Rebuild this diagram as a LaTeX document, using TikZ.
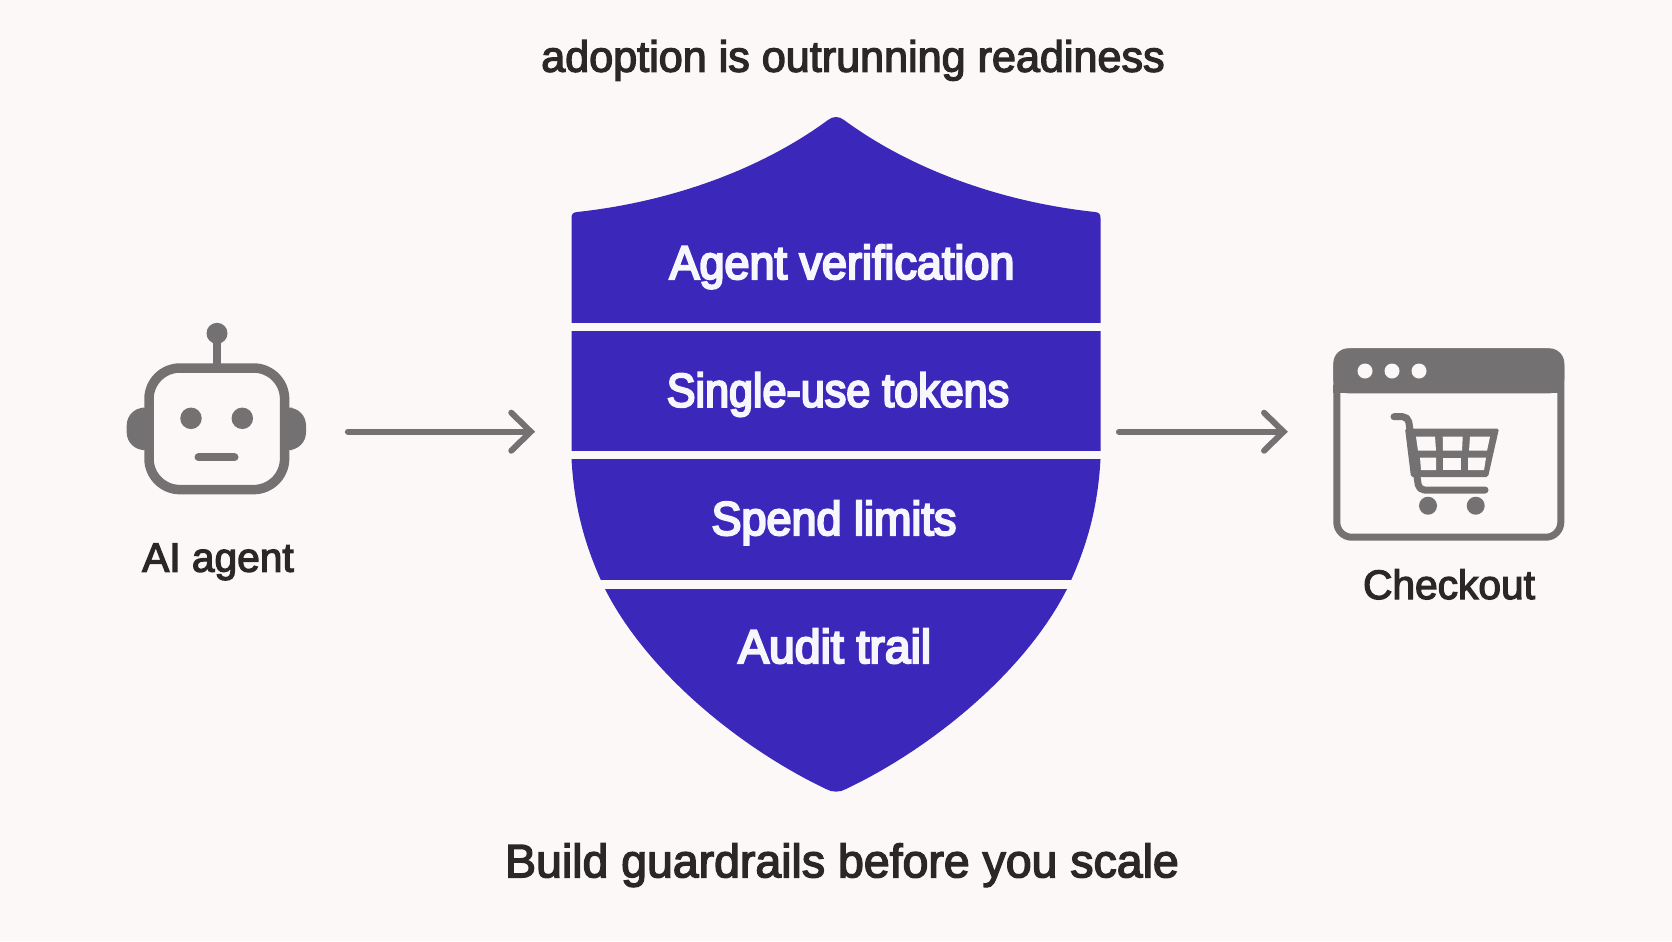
\documentclass[tikz,border=0pt]{standalone}
\usepackage{fontspec}
\usepackage{xcolor}
\usetikzlibrary{arrows.meta}
\newfontfamily\bandfont[FakeStretch=0.948,FakeBold=4.5]{Liberation Sans}
\newfontfamily\captionfont[FakeStretch=0.99,FakeBold=3]{Liberation Sans}
\definecolor{pagebg}{HTML}{FBF8F7}
\definecolor{shieldblue}{HTML}{3B27BA}
\definecolor{icongrey}{HTML}{747172}
\definecolor{inkx}{HTML}{2A2727}
\definecolor{bandtext}{HTML}{F6F6FC}
\tikzset{
  ar/.style={-{Straight Barb[length=3.9mm,width=7.6mm,line cap=round]},line width=1.2mm,icongrey,line cap=round},
  anchorbox/.style={inner sep=0pt,outer sep=0pt,minimum height=2.5cm},
  bandlabel/.style={anchor=base,text=bandtext,font=\bandfont\fontsize{27}{30}\selectfont},
  caption/.style={anchor=base,text=inkx,font=\captionfont\fontsize{23.4}{28}\selectfont},
  gapbar/.style={fill=pagebg,draw=none},
  cell/.style={fill=pagebg,draw=none}
}
\begin{document}
\begin{tikzpicture}[x=0.02cm,y=-0.02cm]
\useasboundingbox (0,0) rectangle (1672,941);
\fill[pagebg] (0,0) rectangle (1672,941);
% shield
\fill[shieldblue] (571.5,218) .. controls (571.5,214) and (573,212.5) .. (577,212)
  .. controls (670,202) and (760,170) .. (828,120)
  .. controls (833,116) and (839,116) .. (844,120)
  .. controls (912,170) and (1002,202) .. (1095,212)
  .. controls (1099,212.5) and (1100.5,214) .. (1100.5,218)
  -- (1100.5,459) .. controls (1098,505) and (1088,545) .. (1067,589)
  .. controls (1025,672) and (932,748) .. (846,789)
  .. controls (840,792.5) and (832,792.5) .. (826,789)
  .. controls (740,748) and (647,672) .. (605,589)
  .. controls (584,545) and (574,505) .. (571.5,459) -- cycle;
\fill[gapbar] (560,323) rectangle (1110,331);
\fill[gapbar] (560,451) rectangle (1110,459);
\fill[gapbar] (560,580) rectangle (1110,588.7);
\node[bandlabel] (verify) at (842,279) {Agent verification};
\node[bandlabel,xscale=0.958] (tokens) at (838,406.7) {Single-use tokens};
\node[bandlabel] (limits) at (834,535) {Spend limits};
\node[bandlabel,xscale=1.03] (audit) at (834.7,663) {Audit trail};
% robot
\fill[icongrey,rounded corners=10pt] (160,407.7) -- (126.7,407.7) -- (126.7,450) -- (160,450) -- cycle;
\fill[icongrey,rounded corners=10pt] (275,407.7) -- (306,407.7) -- (306,450) -- (275,450) -- cycle;
\draw[icongrey,line width=0.15cm] (217,340) -- (217,365);
\fill[icongrey] (217,333.3) circle (0.21cm);
\draw[icongrey,line width=0.19cm,fill=pagebg,rounded corners=0.62cm] (149,368) rectangle (284.6,489.6);
\fill[icongrey] (191,418.3) circle (0.215cm);
\fill[icongrey] (242.3,418.3) circle (0.215cm);
\draw[icongrey,line width=0.16cm,line cap=round] (198.5,457.3) -- (234.5,457.3);
\node[anchorbox,minimum width=3.58cm] (robot) at (216.4,431.7) {};
\node[caption] (agentlabel) at (218,571.7) {AI agent};
% window
\draw[icongrey,line width=0.14cm,fill=pagebg,rounded corners=0.3cm] (1336.8,351.8) rectangle (1560.8,537.2);
\fill[icongrey,rounded corners=0.3cm] (1333.3,393.3) -- (1333.3,348.3) -- (1564.3,348.3) -- (1564.3,393.3) -- cycle;
\fill[icongrey] (1333.3,385) rectangle (1564.3,393.3);
\foreach \dotx in {1365,1392,1419}
  \fill[pagebg] (\dotx,371) circle (0.15cm);
\node[anchorbox,minimum width=4.62cm] (window) at (1448.8,431.7) {};
\node[caption] (checkoutlabel) at (1449,599) {Checkout};
% cart
\draw[icongrey,line width=0.14cm,line cap=round,line join=round,rounded corners=3pt] (1394,416.7) -- (1408,416.7) -- (1419,490) -- (1485,490);
\fill[icongrey,rounded corners=1pt] (1405,428.5) -- (1499,428.5) -- (1488,477) -- (1411,477) -- cycle;
\fill[cell] (1416,436.7) -- (1435,436.7) -- (1436,450.7) -- (1418,450.7) -- cycle;
\fill[cell] (1442.7,436.7) -- (1462.7,436.7) -- (1462,450.7) -- (1443,450.7) -- cycle;
\fill[cell] (1470,436.7) -- (1490,436.7) -- (1487,450.7) -- (1469,450.7) -- cycle;
\fill[cell] (1420,457.7) -- (1436,457.7) -- (1436,470) -- (1421,470) -- cycle;
\fill[cell] (1443,457.7) -- (1461,457.7) -- (1461,470) -- (1443,470) -- cycle;
\fill[cell] (1468,457.7) -- (1486,457.7) -- (1484,470) -- (1468,470) -- cycle;
\fill[icongrey] (1428,505.7) circle (0.18cm);
\fill[icongrey] (1475.7,505.7) circle (0.18cm);
% connectors
\node[anchorbox,minimum width=10.58cm] (shield) at (836,431.7) {};
\draw[ar,shorten <=0.84cm,shorten >=0.73cm] (robot) -- (shield);
\draw[ar,shorten <=0.37cm,shorten >=0.91cm] (shield) -- (window);
% titles
\node[caption,font=\captionfont\fontsize{24.8}{28}\selectfont] (headline) at (853,71.7) {adoption is outrunning readiness};
\node[caption,font=\captionfont\fontsize{26.7}{30}\selectfont] (closing) at (842,877.3) {Build guardrails before you scale};
\end{tikzpicture}
\end{document}
